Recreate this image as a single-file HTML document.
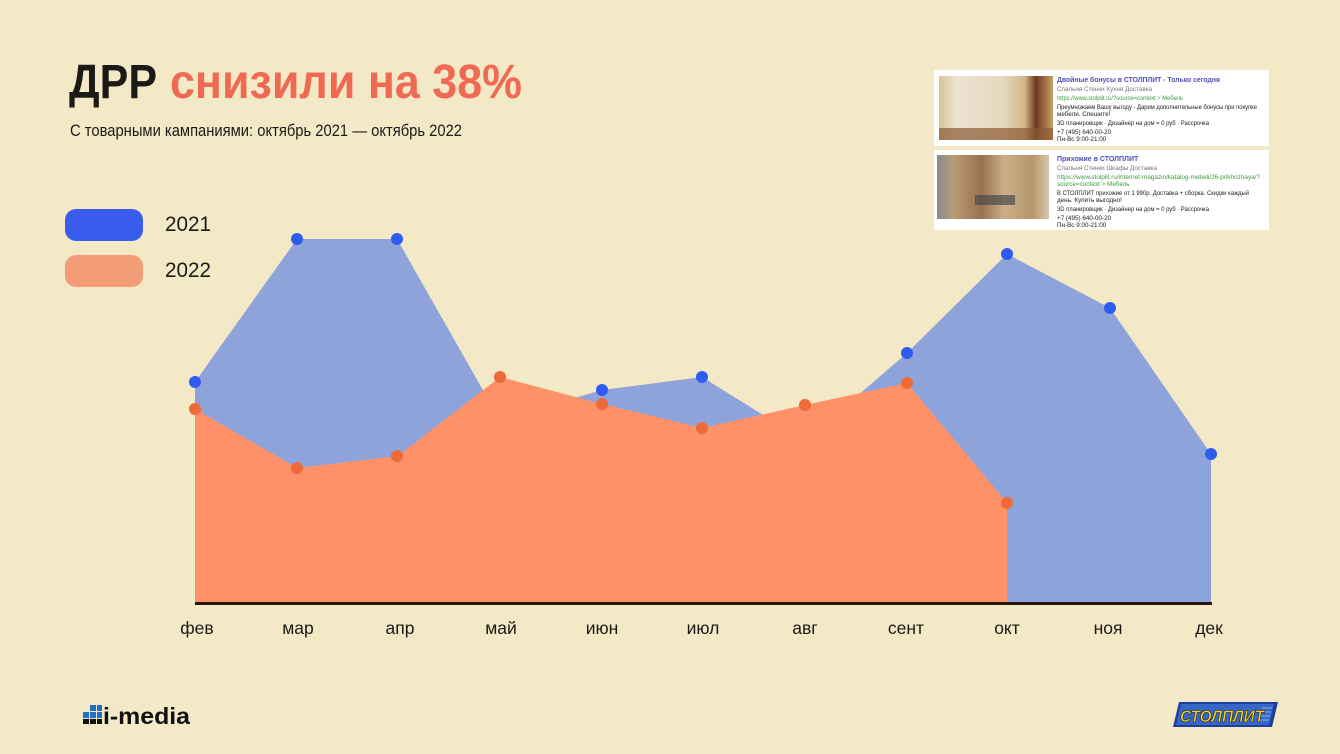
<!DOCTYPE html>
<html><head><meta charset="utf-8">
<style>
html,body{margin:0;padding:0;background:#f3e9c6;}
svg{display:block;}
text{font-family:"Liberation Sans","DejaVu Sans",sans-serif;}
</style></head>
<body>
<svg width="1340" height="754" viewBox="0 0 1340 754" xmlns="http://www.w3.org/2000/svg">
<rect width="1340" height="754" fill="#f3e9c6"/>

<!-- Title -->
<text x="69" y="98" font-size="48" font-weight="bold" fill="#1c1a17" textLength="88" lengthAdjust="spacingAndGlyphs">ДРР</text>
<text x="170" y="98" font-size="48" font-weight="bold" fill="#ef6a52" textLength="352" lengthAdjust="spacingAndGlyphs">снизили на 38%</text>
<text x="70" y="136" font-size="16.5" fill="#1c1a17" textLength="392" lengthAdjust="spacingAndGlyphs">С товарными кампаниями: октябрь 2021 — октябрь 2022</text>

<!-- Legend -->
<rect x="65" y="209" width="78" height="32" rx="11" fill="#3a5ced"/>
<rect x="65" y="255" width="78" height="32" rx="11" fill="#f29d77"/>
<text x="165" y="231" font-size="21" fill="#1c1a17" textLength="46" lengthAdjust="spacingAndGlyphs">2021</text>
<text x="165" y="277" font-size="21" fill="#1c1a17" textLength="46" lengthAdjust="spacingAndGlyphs">2022</text>

<!-- Blue area -->
<polygon fill="#8fa3db" points="195,604 195,382 297,239 397,239 500,420 602,390 702,377 805,441 907,353 1007,254 1110,308 1211,454 1211,604"/>
<!-- Orange area -->
<polygon fill="#ff9168" points="195,604 195,409 297,468 398,456 500,377 602,404 702,428 805,405 907,383 1007,503 1007,604"/>

<!-- Baseline -->
<rect x="195" y="602" width="1017" height="3" fill="#2a160c"/>

<!-- Blue dots -->
<g fill="#2f5cf0">
<circle cx="195" cy="382" r="6"/>
<circle cx="297" cy="239" r="6"/>
<circle cx="397" cy="239" r="6"/>
<circle cx="602" cy="390" r="6"/>
<circle cx="702" cy="377" r="6"/>
<circle cx="907" cy="353" r="6"/>
<circle cx="1007" cy="254" r="6"/>
<circle cx="1110" cy="308" r="6"/>
<circle cx="1211" cy="454" r="6"/>
</g>
<!-- Orange dots -->
<g fill="#ee6a36">
<circle cx="195" cy="409" r="6"/>
<circle cx="297" cy="468" r="6"/>
<circle cx="397" cy="456" r="6"/>
<circle cx="500" cy="377" r="6"/>
<circle cx="602" cy="404" r="6"/>
<circle cx="702" cy="428" r="6"/>
<circle cx="805" cy="405" r="6"/>
<circle cx="907" cy="383" r="6"/>
<circle cx="1007" cy="503" r="6"/>
</g>

<!-- Month labels -->
<g font-size="17.5" fill="#1c1a17" text-anchor="middle">
<text x="197" y="634">фев</text>
<text x="298" y="634">мар</text>
<text x="400" y="634">апр</text>
<text x="501" y="634">май</text>
<text x="602" y="634">июн</text>
<text x="703" y="634">июл</text>
<text x="805" y="634">авг</text>
<text x="906" y="634">сент</text>
<text x="1007" y="634">окт</text>
<text x="1108" y="634">ноя</text>
<text x="1209" y="634">дек</text>
</g>

<!-- Ad cards -->
<rect x="934" y="70" width="335" height="76" fill="#ffffff"/>
<rect x="934" y="150" width="335" height="80" fill="#ffffff"/>
<defs>
<linearGradient id="img1" x1="0" y1="0" x2="1" y2="0">
<stop offset="0" stop-color="#d9c29a"/>
<stop offset="0.15" stop-color="#ece2d0"/>
<stop offset="0.55" stop-color="#e6d8c0"/>
<stop offset="0.75" stop-color="#d3b88a"/>
<stop offset="0.85" stop-color="#6b3a20"/>
<stop offset="1" stop-color="#c9a06a"/>
</linearGradient>
<linearGradient id="img2" x1="0" y1="0" x2="1" y2="0">
<stop offset="0" stop-color="#8a8c8e"/>
<stop offset="0.15" stop-color="#b89b74"/>
<stop offset="0.4" stop-color="#9a7150"/>
<stop offset="0.6" stop-color="#c9b08a"/>
<stop offset="0.85" stop-color="#b8946a"/>
<stop offset="1" stop-color="#d4c6b0"/>
</linearGradient>
</defs>
<rect x="939" y="76" width="114" height="64" fill="url(#img1)"/>
<rect x="939" y="128" width="114" height="12" fill="#8c5a36" opacity="0.7"/>
<rect x="937" y="155" width="112" height="64" fill="url(#img2)"/>
<rect x="975" y="195" width="40" height="10" fill="#4a4a4a" opacity="0.7"/>

<g font-size="6.3">
<text x="1057" y="82" fill="#4f4fb8" font-weight="bold" font-size="7" textLength="163" lengthAdjust="spacingAndGlyphs">Двойные бонусы в СТОЛПЛИТ - Только сегодня</text>
<text x="1057" y="91" fill="#777">Спальня  Стенки  Кухня  Доставка</text>
<text x="1057" y="100" fill="#3f9a3f" textLength="126" lengthAdjust="spacingAndGlyphs">https://www.stolplit.ru/?source=context &gt; Мебель</text>
<text x="1057" y="109" fill="#222" textLength="200" lengthAdjust="spacingAndGlyphs">Преумножаем Вашу выгоду - Дарим дополнительные бонусы при покупке</text>
<text x="1057" y="116" fill="#222">мебели. Спешите!</text>
<text x="1057" y="125" fill="#222" textLength="152" lengthAdjust="spacingAndGlyphs">3D планировщик · Дизайнер на дом = 0 руб · Рассрочка</text>
<text x="1057" y="134" fill="#222">+7 (495) 640-00-20</text>
<text x="1057" y="141" fill="#222">Пн-Вс 9:00-21:00</text>

<text x="1057" y="161" fill="#4f4fb8" font-weight="bold" font-size="7">Прихожие в СТОЛПЛИТ</text>
<text x="1057" y="170" fill="#777">Спальня  Стенки  Шкафы  Доставка</text>
<text x="1057" y="179" fill="#3f9a3f" textLength="203" lengthAdjust="spacingAndGlyphs">https://www.stolplit.ru/internet-magazin/katalog-mebeli/26-prikhozhaya/?</text>
<text x="1057" y="186" fill="#3f9a3f">source=context &gt; Мебель</text>
<text x="1057" y="195" fill="#222" textLength="192" lengthAdjust="spacingAndGlyphs">В СТОЛПЛИТ прихожие от 1 990р. Доставка + сборка. Скидки каждый</text>
<text x="1057" y="202" fill="#222">день. Купить выгодно!</text>
<text x="1057" y="211" fill="#222" textLength="152" lengthAdjust="spacingAndGlyphs">3D планировщик · Дизайнер на дом = 0 руб · Рассрочка</text>
<text x="1057" y="220" fill="#222">+7 (495) 640-00-20</text>
<text x="1057" y="227" fill="#222">Пн-Вс 9:00-21:00</text>
</g>

<!-- i-media logo -->
<g fill="#1f6fc4">
<rect x="83" y="712" width="6" height="6"/>
<rect x="90" y="712" width="6" height="6"/>
<rect x="90" y="705" width="6" height="6"/>
<rect x="97" y="712" width="5" height="6"/>
<rect x="97" y="705" width="5" height="6"/>
</g>
<g fill="#111">
<rect x="83" y="719" width="6" height="5"/>
<rect x="90" y="719" width="6" height="5"/>
<rect x="97" y="719" width="5" height="5"/>
</g>
<text x="103" y="724" font-size="23" font-weight="bold" fill="#111" textLength="87" lengthAdjust="spacingAndGlyphs">i-media</text>

<!-- Stolplit logo -->
<polygon points="1179,702 1278,702 1272,727 1173,727" fill="#1c3f9c"/>
<polygon points="1181,704 1274,704 1269,725 1176,725" fill="#3566c8"/>
<g stroke="#8fb0e8" stroke-width="1">
<line x1="1262" y1="708" x2="1272" y2="708"/>
<line x1="1261" y1="712" x2="1271" y2="712"/>
<line x1="1260" y1="716" x2="1270" y2="716"/>
<line x1="1259" y1="720" x2="1269" y2="720"/>
</g>
<text x="1222" y="722" font-size="17" font-weight="bold" font-style="italic" fill="#f5d51c" stroke="#1a1a1a" stroke-width="0.6" text-anchor="middle" textLength="84" lengthAdjust="spacingAndGlyphs">СТОЛПЛИТ</text>
</svg>
</body></html>
